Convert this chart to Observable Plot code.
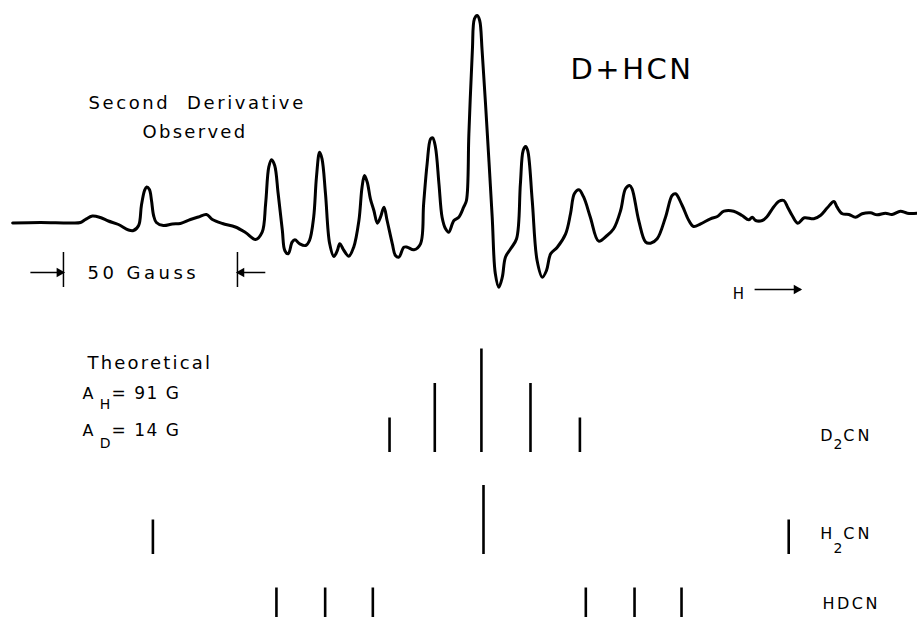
<!DOCTYPE html>
<html>
<head>
<meta charset="utf-8">
<script src="https://cdn.jsdelivr.net/npm/d3@7"></script>
<script src="https://cdn.jsdelivr.net/npm/@observablehq/plot@0.6"></script>
<style>
  html, body { margin: 0; padding: 0; background: #fff; overflow: hidden; }
</style>
</head>
<body>
<div id="chart"></div>
<script>
// Observed second-derivative ESR trace: field offset (Gauss) from spectrum centre, signal (arbitrary units)
const fieldG = [-135.3,-127.3,-118.7,-115.8,-114.4,-112.4,-110.1,-107.8,-104.9,-102.0,-100.6,-99.1,-98.3,-97.4,-96.8,-96.0,-95.4,-94.8,-94.0,-92.0,-89.4,-87.1,-84.2,-81.9,-79.6,-77.9,-75.0,-71.3,-68.4,-65.5,-63.6,-62.6,-61.7,-60.9,-60.0,-59.0,-57.8,-57.1,-56.1,-55.0,-54.2,-52.8,-51.1,-50.0,-48.8,-48.0,-47.1,-46.4,-45.4,-44.2,-43.0,-42.0,-41.3,-40.1,-38.7,-37.3,-35.8,-34.9,-34.2,-33.4,-32.5,-31.5,-30.5,-29.6,-28.6,-27.7,-26.2,-25.3,-24.3,-22.9,-21.9,-20.0,-18.1,-17.2,-16.2,-15.2,-14.6,-13.8,-12.8,-11.9,-10.9,-10.0,-8.5,-7.1,-5.7,-4.9,-4.2,-3.2,-2.6,-1.8,-1.1,-0.4,1.1,2.5,3.4,4.4,5.4,6.3,7.8,9.5,10.6,11.4,12.1,12.7,14.0,15.4,16.9,18.1,19.3,21.2,23.6,25.0,26.1,27.4,28.8,30.7,33.1,35.5,37.4,39.4,40.8,42.0,42.7,44.6,46.6,48.0,49.9,52.3,54.2,55.2,57.1,59.0,60.4,62.4,65.2,67.2,69.1,71.9,74.3,76.2,77.2,78.2,80.1,81.5,83.0,84.9,86.3,87.4,88.7,90.3,92.2,94.9,96.8,98.8,100.7,101.6,103.1,105.0,106.9,108.8,111.2,113.1,115.5,117.4,119.8,121.8,124.6];
const signal = [-2.5,-2,-2.5,-2,1,4.5,3,-0.5,-4,-9.5,-10,-5,15,30,33.5,31,20,5,-2,-5,-3.5,-3,1,3.5,6,1,-3,-6.5,-12,-19,-11.7,17,53.3,60.7,55,26.7,-10,-30,-33.3,-21.7,-19.3,-23.3,-25,-20,3.3,43.3,68.3,61.7,26.7,-23.3,-36,-30,-23.3,-30,-35.7,-26.7,0,33.3,45,38.3,21.7,10,-2.7,3.3,13.3,0,-23.3,-35,-36.7,-26.7,-26.7,-29.3,-23.3,16.7,56.7,81.7,82.7,73.3,36.7,3.3,-8.3,-11.7,0,3.3,13.3,20,86.7,170,201.7,205,200,170,86.7,3.3,-53.3,-66.7,-56.7,-36.7,-28.3,-18.3,36.7,70,74,70,20,-40,-56.7,-50,-33.3,-26.7,-13.3,6.7,26.7,30.7,23.3,3.3,-20.7,-15,-8.3,10,31.7,35,31.7,0,-21.7,-22.7,-18.3,3.3,25,26.7,15,0,-6,-3.3,1.7,4,9.3,9.3,5,0.7,3.3,0,0,4,11.7,19.3,20,13.3,5,-2.7,2.7,1.7,5,12.7,19,13.3,6.7,6,3.3,6.7,7.7,5.7,7.3,6,9.3,7.3,7.3];

// Theoretical stick spectra: line positions (Gauss) and relative intensities
const speciesNames = ["D2CN", "H2CN", "HDCN"];
const d2cnPos = [-27.0, -14.0, -0.6, 13.5, 27.7];
const d2cnRel = [1, 2, 3, 2, 1];
const h2cnPos = [-95.0, 0.0, 87.7];
const h2cnRel = [1, 2, 1];
const hdcnPos = [-59.5, -45.5, -31.8, 29.4, 43.4, 56.9];
const hdcnRel = [1, 1, 1, 1, 1, 1];
const stickBaselines = [-232, -334, -402]; // vertical offset of each stick row (a.u.)
const stickUnit = 34.5;                     // a.u. per unit relative intensity

// Scale bar: 50 Gauss
const scaleBarG = [-120.7, -70.7];

// Texts
const titleText = "D+HCN";
const observedLines = ["Second  Derivative", "Observed"];
const scaleText = "50 Gauss";
const fieldLabel = "H";
const theoryTitle = "Theoretical";
const couplingA = ["A", "A"];
const couplingSub = ["H", "D"];
const couplingVal = ["= 91 G", "= 14 G"];

// ---- build tables ----
const trace = fieldG.map((g, i) => ({g, s: signal[i]}));
function sticks(pos, rel, k) {
  return pos.map((g, i) => ({g, y1: stickBaselines[k], y2: stickBaselines[k] + rel[i] * stickUnit}));
}
const allSticks = [
  ...sticks(d2cnPos, d2cnRel, 0),
  ...sticks(h2cnPos, h2cnRel, 1),
  ...sticks(hdcnPos, hdcnRel, 2)
];

const F = "DejaVu Sans";
const T = {textAnchor: "start", lineAnchor: "bottom", text: d => d};

const chart = Plot.plot({
  width: 917,
  height: 617,
  margin: 0,
  x: {domain: [-138.79, 124.71], axis: null},
  y: {domain: [-397, 220], axis: null},
  style: {fontFamily: F, background: "white", color: "black"},
  marks: [
    // observed trace
    Plot.line(trace, {x: "g", y: "s", curve: "catmull-rom", stroke: "black", strokeWidth: 3, strokeLinejoin: "round", strokeLinecap: "round"}),
    // theoretical sticks
    Plot.ruleX(allSticks, {x: "g", y1: "y1", y2: "y2", stroke: "black", strokeWidth: 2.6}),
    // 50 Gauss scale bar ticks
    Plot.ruleX(scaleBarG, {x: d => d, y1: -67, y2: -32, stroke: "black", strokeWidth: 1.5}),
    // arrows toward the ticks
    Plot.link([{x1: scaleBarG[0] - 9.5, x2: scaleBarG[0]}, {x1: scaleBarG[1] + 8, x2: scaleBarG[1]}],
      {x1: "x1", x2: "x2", y1: -52, y2: -52, stroke: "black", strokeWidth: 1.5}),
    Plot.dot([scaleBarG[0]], {x: d => d, y: -52, symbol: "triangle", rotate: 90, r: 3.6, dx: -4, fill: "black", stroke: "none"}),
    Plot.dot([scaleBarG[1]], {x: d => d, y: -52, symbol: "triangle", rotate: -90, r: 3.6, dx: 4, fill: "black", stroke: "none"}),
    // field direction arrow
    Plot.link([{x1: 77.9, x2: 91.1}], {x1: "x1", x2: "x2", y1: -69, y2: -69, stroke: "black", strokeWidth: 1.5}),
    Plot.dot([91.1], {x: d => d, y: -69, symbol: "triangle", rotate: 90, r: 3.6, dx: -4, fill: "black", stroke: "none"}),
    // texts
    Plot.text([titleText], {...T, x: 25.0, y: 142, fontSize: 29}),
    Plot.text(observedLines, {...T, x: (d, i) => [-113.5, -98.0][i], y: (d, i) => [112, 83][i], fontSize: 18}),
    Plot.text([scaleText], {...T, x: -113.8, y: -58, fontSize: 18}),
    Plot.text([fieldLabel], {...T, x: 71.6, y: -78, fontSize: 15}),
    Plot.text([theoryTitle], {...T, x: -113.8, y: -148, fontSize: 18}),
    Plot.text(couplingA, {...T, x: -115.2, y: (d, i) => [-178, -215][i], fontSize: 16}),
    Plot.text(couplingSub, {...T, x: -110.3, y: (d, i) => [-188, -227][i], fontSize: 14}),
    Plot.text(couplingVal, {...T, x: -106.9, y: (d, i) => [-178, -215][i], fontSize: 17}),
    // species labels with subscripts
    Plot.text([speciesNames[0][0], speciesNames[1][0]], {...T, x: 96.8, y: (d, i) => [-220, -318][i], fontSize: 16}),
    Plot.text([speciesNames[0][1], speciesNames[1][1]], {...T, x: 100.6, y: (d, i) => [-228, -332][i], fontSize: 14}),
    Plot.text([speciesNames[0].slice(2), speciesNames[1].slice(2)], {...T, x: 103.4, y: (d, i) => [-220, -318][i], fontSize: 16}),
    Plot.text([speciesNames[2]], {...T, x: 97.4, y: -388, fontSize: 16})
  ]
});

document.getElementById("chart").appendChild(chart);
// letter spacing of the hand-lettered labels
const spacing = new Map([
  [titleText, "2.5px"], [observedLines[0], "2.6px"], [observedLines[1], "2.3px"],
  [scaleText, "3.5px"], [theoryTitle, "2.2px"],
  [couplingVal[0], "1.5px"], [couplingVal[1], "1.5px"],
  ["CN", "3px"], [speciesNames[2], "2.5px"]
]);
d3.select(chart).selectAll("text").each(function() {
  const s = spacing.get(this.textContent);
  if (s) this.style.letterSpacing = s;
});
</script>
</body>
</html>
